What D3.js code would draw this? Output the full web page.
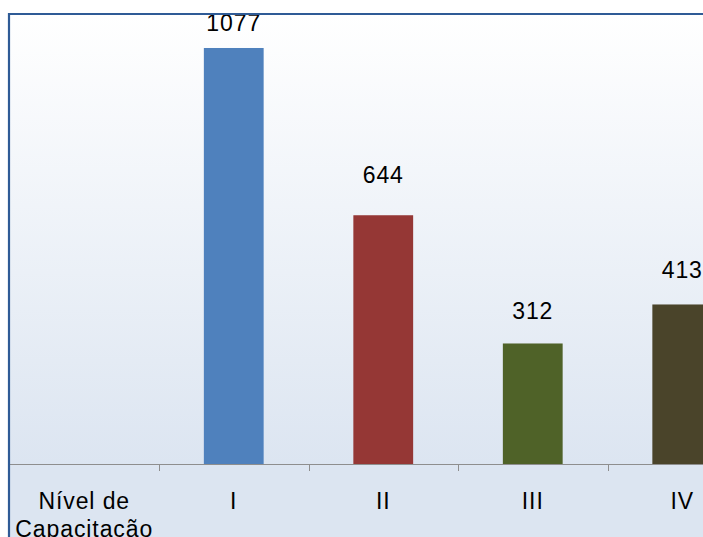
<!DOCTYPE html>
<html>
<head>
<meta charset="utf-8">
<script src="https://cdn.jsdelivr.net/npm/d3@7"></script>
<style>
  body { margin: 0; background: #fff; overflow: hidden; }
  text { font-family: "Liberation Sans", Arial, sans-serif; font-size: 23px; fill: #000; letter-spacing: 0.9px; }
</style>
</head>
<body>
<script>
// data
const categories = ["Nível de\nCapacitação", "I", "II", "III", "IV"];
const levels = ["I", "II", "III", "IV"];
const values = [1077, 644, 312, 413];
const colors = ["#4f81bd", "#953735", "#4f6228", "#4a442a"];

const w = 703, h = 537;
const padLeft = 9, padTop = 14, base = 464;
const step = 149.5;

const svg = d3.select("body").append("svg")
  .attr("width", w)
  .attr("height", h);

// background gradient
const grad = svg.append("defs").append("linearGradient")
  .attr("id", "bg")
  .attr("gradientUnits", "userSpaceOnUse")
  .attr("x1", 0).attr("x2", 0)
  .attr("y1", padTop).attr("y2", h);
grad.append("stop").attr("offset", 0).attr("stop-color", "#ffffff");
grad.append("stop").attr("offset", 0.86).attr("stop-color", "#dce5f1");
grad.append("stop").attr("offset", 1).attr("stop-color", "#dce5f1");

svg.append("rect")
  .attr("x", padLeft).attr("y", padTop)
  .attr("width", w - padLeft).attr("height", h - padTop)
  .attr("fill", "url(#bg)");

// scales
const xScale = d3.scaleBand()
  .domain(categories)
  .range([padLeft + 0.5, padLeft + 0.5 + step * categories.length])
  .padding(0);

const yScale = d3.scaleLinear()
  .domain([0, 1165])
  .range([base, padTop]);

// bars
svg.selectAll("rect.bar")
  .data(levels)
  .enter()
  .append("rect")
  .attr("class", "bar")
  .attr("x", (d, i) => xScale(d) + xScale.bandwidth() * 0.3)
  .attr("width", xScale.bandwidth() * 0.4)
  .attr("y", (d, i) => yScale(values[i]))
  .attr("height", (d, i) => base - yScale(values[i]))
  .attr("fill", (d, i) => colors[i]);

// value labels
svg.selectAll("text.val")
  .data(levels)
  .enter()
  .append("text")
  .attr("class", "val")
  .attr("text-anchor", "middle")
  .attr("x", d => xScale(d) + xScale.bandwidth() / 2)
  .attr("y", (d, i) => Math.max(31, yScale(values[i] * 1.06) - 17))
  .text((d, i) => values[i]);

// axis line + ticks
svg.append("line")
  .attr("x1", xScale.range()[0]).attr("x2", w)
  .attr("y1", base + 0.5).attr("y2", base + 0.5)
  .attr("stroke", "#8e8e8e")
  .attr("stroke-width", 1.2);

svg.selectAll("line.tick")
  .data(categories.slice(1))
  .enter()
  .append("line")
  .attr("class", "tick")
  .attr("x1", d => Math.round(xScale(d)) + 0.5)
  .attr("x2", d => Math.round(xScale(d)) + 0.5)
  .attr("y1", base)
  .attr("y2", base + 7)
  .attr("stroke", "#8e8e8e");

// category labels
const cat = svg.selectAll("text.cat")
  .data(categories)
  .enter()
  .append("text")
  .attr("class", "cat")
  .attr("text-anchor", "middle")
  .attr("y", 509);
cat.selectAll("tspan")
  .data(d => d.split("\n").map(t => ({ t: t, c: d })))
  .enter()
  .append("tspan")
  .attr("x", d => xScale(d.c) + xScale.bandwidth() / 2)
  .attr("dy", (d, i) => i ? 28 : 0)
  .text(d => d.t);

// chart border (top and left)
svg.append("path")
  .attr("d", "M" + padLeft + "," + h + "V" + padTop + "H" + w)
  .attr("fill", "none")
  .attr("stroke", "#2f5b96")
  .attr("stroke-width", 2.2);
</script>
</body>
</html>
